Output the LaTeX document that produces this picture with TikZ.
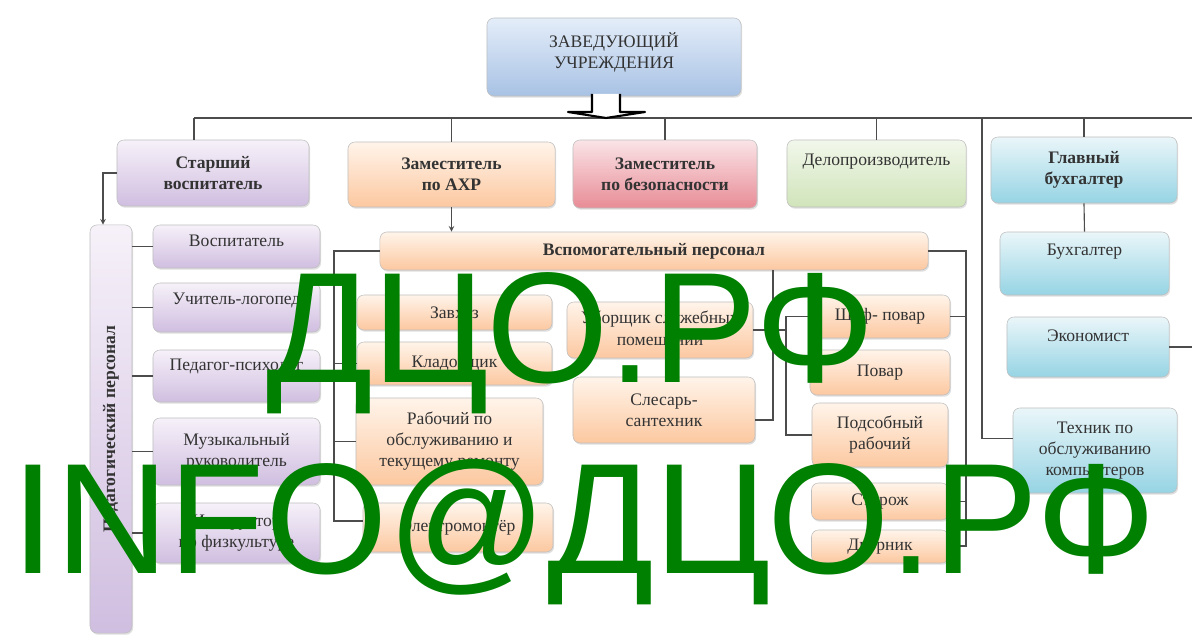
\documentclass[tikz,border=0pt]{standalone}
\usepackage{fontspec}
\setmainfont{Liberation Serif}
\newfontfamily\wmfont{Liberation Sans}
\usetikzlibrary{shadows}
\definecolor{kgblueL}{RGB}{228,237,249}
\definecolor{kgblueD}{RGB}{168,194,228}
\definecolor{kgpurpleL}{RGB}{246,241,249}
\definecolor{kgpurpleD}{RGB}{208,190,224}
\definecolor{kgorangeL}{RGB}{255,244,234}
\definecolor{kgorangeD}{RGB}{252,200,160}
\definecolor{kgpinkL}{RGB}{250,228,231}
\definecolor{kgpinkD}{RGB}{232,140,150}
\definecolor{kggreenL}{RGB}{242,247,235}
\definecolor{kggreenD}{RGB}{208,228,186}
\definecolor{kgcyanL}{RGB}{234,246,249}
\definecolor{kgcyanD}{RGB}{150,212,228}
\definecolor{wmgreen}{RGB}{0,128,0}

\begin{document}
\begin{tikzpicture}[x=0.025cm, y=-0.025cm,
    box/.style={rectangle, draw=black!25, rounded corners=5pt, align=center, inner sep=2pt, font=\fontsize{12.5}{15}\selectfont, text=black!80, drop shadow={opacity=0.25, shadow xshift=0.8pt, shadow yshift=-1.2pt}},
    bluebox/.style={box, top color=kgblueL, bottom color=kgblueD},
    purplebox/.style={box, top color=kgpurpleL, bottom color=kgpurpleD},
    orangebox/.style={box, top color=kgorangeL, bottom color=kgorangeD},
    pinkbox/.style={box, top color=kgpinkL, bottom color=kgpinkD},
    greenbox/.style={box, top color=kggreenL, bottom color=kggreenD},
    cyanbox/.style={box, top color=kgcyanL, bottom color=kgcyanD},
    line/.style={draw=black!70, line width=0.8pt},
    arrow/.style={->, >=stealth, line width=0.8pt, black!70},
    wmark/.style={anchor=base west, inner sep=0pt, text=wmgreen, font=\wmfont\fontsize{112}{114}\selectfont}
]
    \useasboundingbox (0,0) rectangle (1192,635);

    % Head and first level
    \node[bluebox, minimum width=6.35cm, minimum height=1.95cm, text depth=9pt] (head) at (614,57) {ЗАВЕДУЮЩИЙ\\УЧРЕЖДЕНИЯ};
    \node[purplebox, minimum width=4.8cm, minimum height=1.65cm, font=\fontsize{12.5}{15}\selectfont\bfseries] (senior) at (213,173) {Старший\\воспитатель};
    \node[orangebox, minimum width=5.175cm, minimum height=1.625cm, font=\fontsize{12.5}{15}\selectfont\bfseries] (ahr) at (451.5,174.5) {Заместитель\\по АХР};
    \node[pinkbox, minimum width=4.6cm, minimum height=1.7cm, font=\fontsize{12.5}{15}\selectfont\bfseries] (safety) at (665,174) {Заместитель\\по безопасности};
    \node[greenbox, minimum width=4.475cm, minimum height=1.675cm, text depth=20pt] (clerk) at (876.5,173.5) {Делопроизводитель};
    \node[cyanbox, minimum width=4.65cm, minimum height=1.65cm, font=\fontsize{12.5}{15}\selectfont\bfseries] (chiefacc) at (1084,170) {Главный\\бухгалтер};

    % Teaching staff
    \node[purplebox, rotate=90, minimum width=10.2cm, minimum height=1.05cm, font=\fontsize{12.5}{15}\selectfont\bfseries] (ped) at (111,429) {Педагогический персонал};
    \node[purplebox, minimum width=4.175cm, minimum height=1.075cm, text depth=8pt] (vosp) at (236.5,246.5) {Воспитатель};
    \node[purplebox, minimum width=4.175cm, minimum height=1.225cm, text depth=12pt] (logo) at (236.5,307.5) {Учитель-логопед};
    \node[purplebox, minimum width=4.175cm, minimum height=1.3cm, text depth=16pt] (psych) at (236.5,376) {Педагог-психолог};
    \node[purplebox, minimum width=4.175cm, minimum height=1.675cm] (music) at (236.5,451.5) {Музыкальный\\руководитель};
    \node[purplebox, minimum width=4.175cm, minimum height=1.5cm] (sport) at (236.5,533) {Инструктор\\по физкультуре};

    % Support staff
    \node[orangebox, minimum width=13.7cm, minimum height=0.95cm, font=\fontsize{12.5}{15}\selectfont\bfseries] (aux) at (654,251) {Вспомогательный персонал};
    \node[orangebox, minimum width=4.875cm, minimum height=0.875cm] (zavhoz) at (454.5,312.5) {Завхоз};
    \node[orangebox, minimum width=4.875cm, minimum height=1.075cm] (klad) at (454.5,363.5) {Кладовщик};
    \node[orangebox, minimum width=4.675cm, minimum height=2.175cm] (repair) at (449.5,441.5) {Рабочий по\\обслуживанию и\\текущему ремонту};
    \node[orangebox, minimum width=4.75cm, minimum height=1.225cm] (elec) at (458,527.5) {Электромонтёр};
    \node[orangebox, minimum width=4.65cm, minimum height=1.4cm] (clean) at (660,330) {Уборщик служебных\\помещений};
    \node[orangebox, minimum width=4.55cm, minimum height=1.65cm] (plumb) at (664,410) {Слесарь-\\сантехник};
    \node[orangebox, minimum width=3.5cm, minimum height=1.075cm] (chef) at (880,316.5) {Шеф- повар};
    \node[orangebox, minimum width=3.5cm, minimum height=1.125cm] (cook) at (880,372.5) {Повар};
    \node[orangebox, minimum width=3.4cm, minimum height=1.6cm] (helper) at (880,435) {Подсобный\\рабочий};
    \node[orangebox, minimum width=3.425cm, minimum height=0.925cm] (guard) at (880,501.5) {Сторож};
    \node[orangebox, minimum width=3.425cm, minimum height=0.825cm] (janitor) at (880,546.5) {Дворник};

    % Accounting
    \node[cyanbox, minimum width=4.225cm, minimum height=1.575cm, text depth=20pt] (acc) at (1084.5,263.5) {Бухгалтер};
    \node[cyanbox, minimum width=4.05cm, minimum height=1.5cm, text depth=16pt] (econ) at (1088,347) {Экономист};
    \node[cyanbox, minimum width=4.1cm, minimum height=2.125cm] (tech) at (1095,450.5) {Техник по\\обслуживанию\\компьютеров};

    % Bus under the head
    \coordinate (busL) at (194,118);
    \coordinate (busR) at (1192,118);
    \coordinate (techbus) at (982,118);
    \coordinate (lbar) at (334,521);
    \coordinate (rbar) at (966,546);
    \coordinate (mbar) at (773,420);
    \coordinate (kx) at (786,0);
    \coordinate (econR) at (1192,347);
    \draw[line] (busL) -- (busR);
    \draw[fill=white, line width=1.5pt, line join=round] (592,94) -- (592,112) -- (568,112) -- (606,118) -- (645,112) -- (620,112) -- (620,94);
    \draw[line] (busL) -- (busL |- senior.north);
    \draw[line] (ahr.north |- busL) -- (ahr.north);
    \draw[line] (safety.north |- busL) -- (safety.north);
    \draw[line] (clerk.north |- busL) -- (clerk.north);
    \draw[line] (chiefacc.north |- busL) -- (chiefacc.north);
    \draw[line] (techbus) |- ([yshift=8.5pt]tech.west);

    % Teaching branch (ped is turned, so its east is the top and its south the right side)
    \draw[arrow] (senior.west) -| ([xshift=-5.7pt]ped.east);
    \foreach \t in {vosp, logo, psych, music, sport}
        \draw[line] (ped.south |- \t.west) -- (\t.west);

    % Support branch
    \draw[arrow] (ahr.south) -- (ahr.south |- aux.north);
    \draw[line] (aux.west) -| (lbar) -- (lbar -| elec.west);
    \foreach \t in {klad, repair}
        \draw[line] (lbar |- \t.west) -- (\t.west);
    \draw[line] (aux.east) -| (rbar) -- (rbar -| janitor.east);
    \foreach \t in {chef, guard}
        \draw[line] (rbar |- \t.east) -- (\t.east);
    \draw[line] (aux.south -| mbar) -- (mbar) -- (mbar -| plumb.east);
    \draw[line] (clean.east) -- (clean.east -| kx);
    \draw[line] (chef.west) -| (kx |- helper.west) -- (helper.west);

    % Accounting branch
    \draw[line] (chiefacc.south) -- (acc.north);
    \draw[line] (econ.east) -- (econR);

    % Watermark
    \node[wmark] (wm1) at (266,383) {ДЦО.РФ};
    \node[wmark] (wm2) at (11,573) {INFO@ДЦО.РФ};
\end{tikzpicture}
\end{document}
